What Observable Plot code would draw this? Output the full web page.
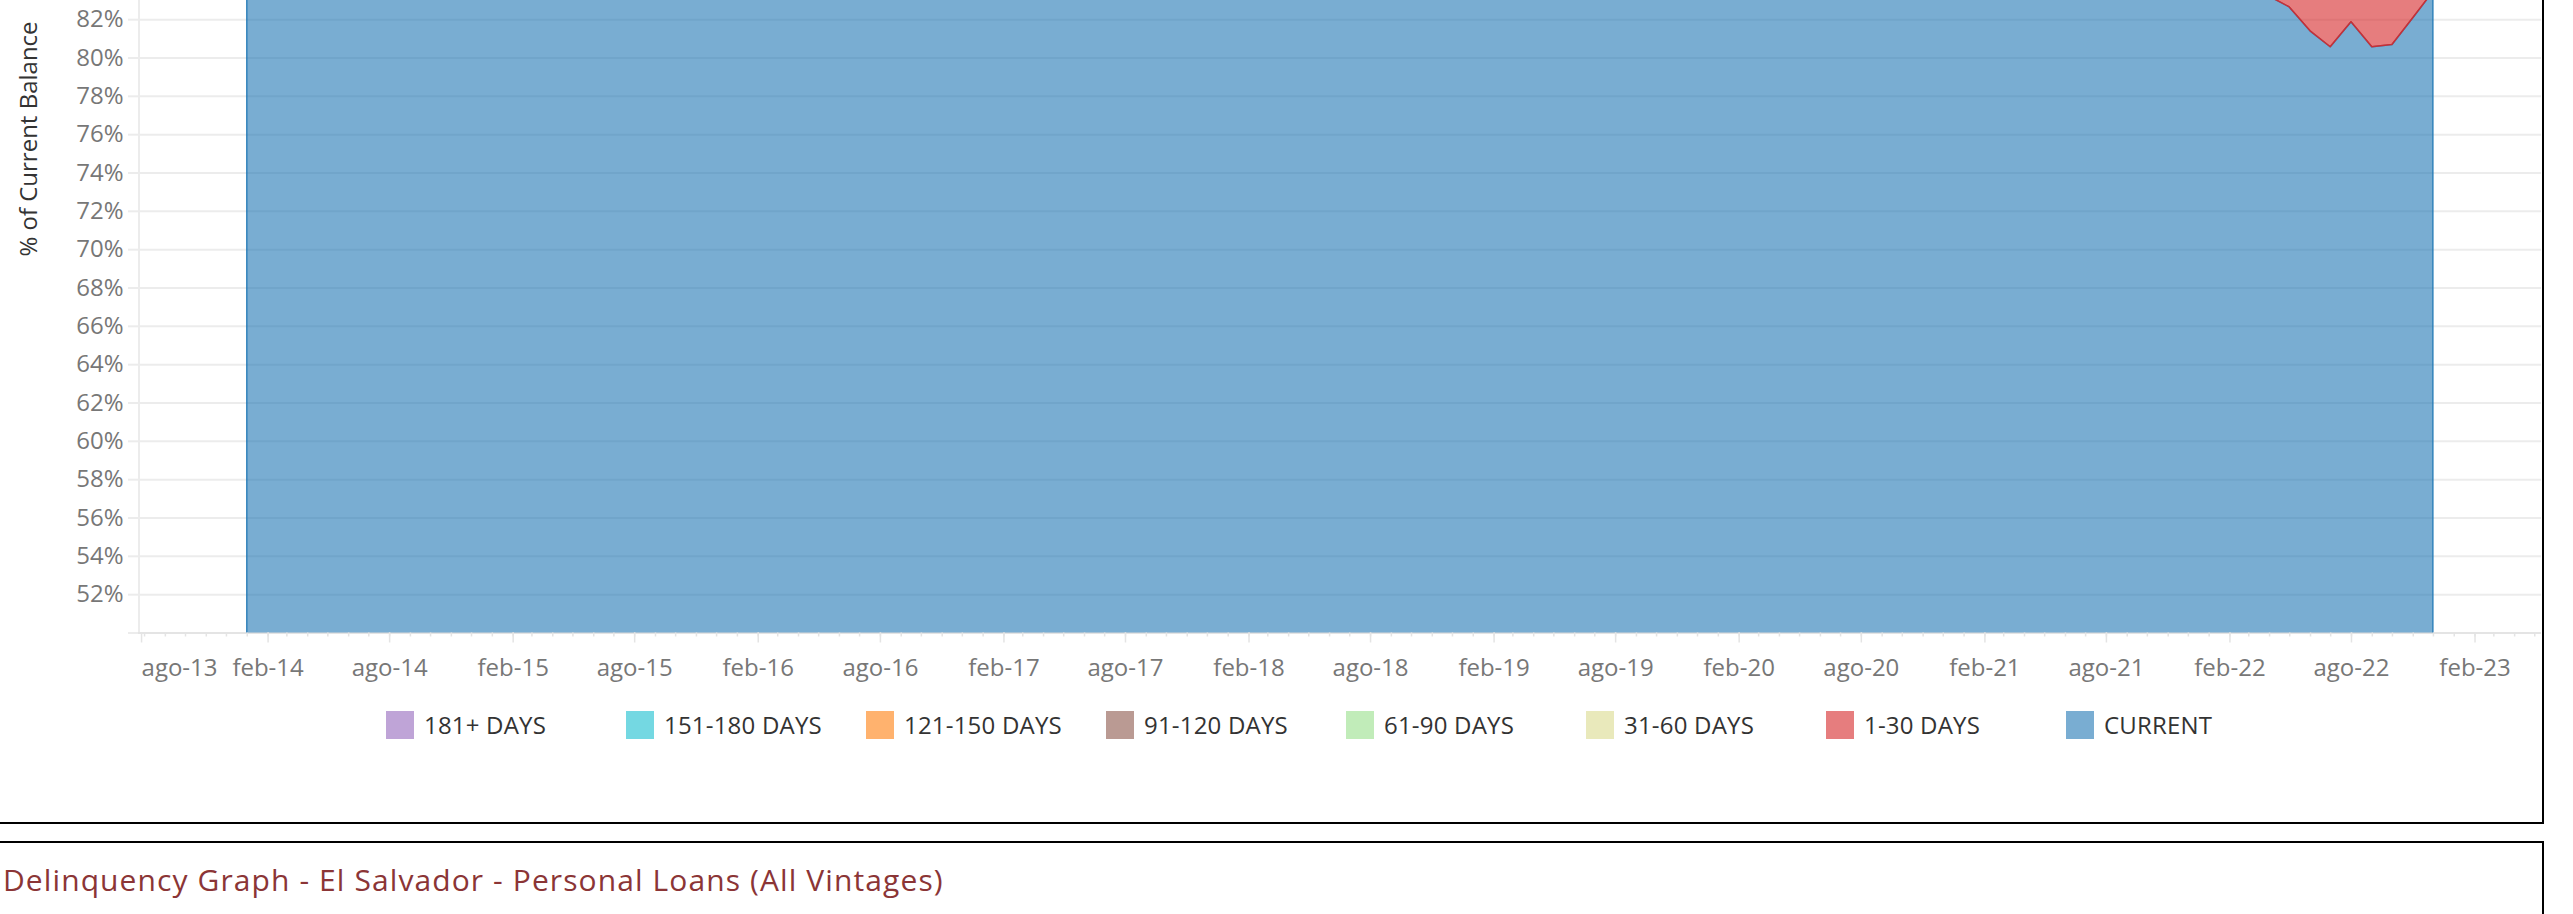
<!DOCTYPE html>
<html>
<head>
<meta charset="utf-8">
<script src="https://cdn.jsdelivr.net/npm/d3@7"></script>
<script src="https://cdn.jsdelivr.net/npm/@observablehq/plot@0.6"></script>
<style>
  html, body { margin: 0; padding: 0; background: #fff; }
  #page { position: relative; width: 2573px; height: 914px; overflow: hidden; background: #fff; font-family: "Open Sans", sans-serif; }
  .box { position: absolute; box-sizing: border-box; border: 2px solid #000; }
  #chart { position: absolute; left: 0; top: 0; }
  #ytitle { position: absolute; left: 27.5px; top: 139px; transform: translate(-50%, -50%) rotate(-90deg); white-space: nowrap; font-size: 24px; line-height: 24px; color: #333; }
  #legend { position: absolute; left: 386px; top: 711px; display: flex; }
  .item { width: 240px; display: flex; align-items: center; height: 28px; }
  .sw { width: 28px; height: 28px; flex: none; }
  .lb { margin-left: 10px; font-size: 24px; letter-spacing: 0.2px; line-height: 28px; color: #333; white-space: nowrap; }
  #title { position: absolute; left: 3px; top: 862px; font-size: 30px; letter-spacing: 1.1px; line-height: 36px; color: #8b3536; white-space: nowrap; }
</style>
</head>
<body>
<div id="page">
  <div class="box" style="left:-10px; top:-10px; width:2554px; height:834px;"></div>
  <div class="box" style="left:-10px; top:841px; width:2554px; height:200px;"></div>
  <div id="chart"></div>
  <div id="ytitle">% of Current Balance</div>
  <div id="legend"></div>
  <div id="title">Delinquency Graph - El Salvador - Personal Loans (All Vintages)</div>
</div>
<script>
// ---- data ----
const categories = ["181+ DAYS", "151-180 DAYS", "121-150 DAYS", "91-120 DAYS", "61-90 DAYS", "31-60 DAYS", "1-30 DAYS", "CURRENT"];
const categoryColors = ["#9467bd", "#17becf", "#ff7f0e", "#8c564b", "#98df8a", "#dbdb8d", "#d62728", "#1f77b4"];

// monthly, Jan 2014 .. Dec 2022 (% of current balance)
const firstMonth = "2014-01";
const currentPct = [
  88.2, 88.5, 88.9, 89.1, 89.0, 89.3, 89.6, 89.4, 89.8, 90.1, 90.0, 90.3,
  89.9, 90.2, 90.5, 90.4, 90.7, 90.9, 90.6, 90.8, 91.1, 91.0, 91.3, 91.5,
  91.2, 91.0, 91.4, 91.6, 91.3, 91.1, 90.9, 91.2, 91.0, 90.8, 91.1, 91.3,
  90.9, 90.7, 91.0, 90.8, 90.6, 90.4, 90.7, 90.5, 90.2, 90.4, 90.6, 90.8,
  90.3, 90.1, 90.4, 90.2, 89.9, 90.1, 89.8, 90.0, 89.7, 89.9, 90.2, 90.4,
  89.8, 89.6, 89.9, 89.7, 89.4, 89.6, 89.3, 89.5, 89.2, 89.4, 89.7, 89.9,
  89.3, 89.1, 88.4, 90.8, 92.1, 92.6, 92.9, 92.4, 91.8, 90.9, 90.1, 89.4,
  88.7, 88.1, 87.6, 87.2, 86.9, 86.5, 86.1, 85.8, 85.4, 85.0, 84.7, 84.4,
  84.0, 83.7, 83.5, 83.2, 82.64, 81.39, 80.56, 81.86, 80.56, 80.68, 82.07, 83.45
];
const days1to30Pct = [
  4.1, 4.3, 4.0, 4.2, 4.4, 4.1, 3.9, 4.2, 4.0, 3.8, 4.1, 3.9,
  4.2, 4.0, 3.8, 4.0, 3.7, 3.6, 3.9, 3.7, 3.5, 3.7, 3.5, 3.4,
  3.6, 3.8, 3.5, 3.4, 3.6, 3.8, 3.9, 3.7, 3.8, 4.0, 3.8, 3.6,
  3.9, 4.1, 3.8, 4.0, 4.1, 4.3, 4.0, 4.2, 4.4, 4.2, 4.0, 3.9,
  4.3, 4.5, 4.2, 4.4, 4.6, 4.4, 4.7, 4.5, 4.8, 4.6, 4.3, 4.2,
  4.6, 4.8, 4.5, 4.7, 4.9, 4.7, 5.0, 4.8, 5.1, 4.9, 4.6, 4.4,
  4.9, 5.1, 5.8, 3.2, 2.6, 2.4, 2.5, 2.9, 3.4, 4.1, 4.7, 5.2,
  5.6, 5.9, 6.1, 6.3, 6.4, 6.6, 6.8, 6.9, 7.1, 7.2, 7.3, 7.4,
  7.5, 7.6, 7.5, 7.7, 7.8, 8.1, 8.3, 7.9, 8.4, 8.2, 7.8, 7.4
];

const yTicks = [52, 54, 56, 58, 60, 62, 64, 66, 68, 70, 72, 74, 76, 78, 80, 82];
const xTickLabels = ["ago-13", "feb-14", "ago-14", "feb-15", "ago-15", "feb-16", "ago-16", "feb-17", "ago-17",
  "feb-18", "ago-18", "feb-19", "ago-19", "feb-20", "ago-20", "feb-21", "ago-21", "feb-22", "ago-22", "feb-23"];

// ---- build ----
const [fy, fm] = firstMonth.split("-").map(Number);
const monthDate = i => new Date(Date.UTC(fy, fm - 1 + i, 1));
const rows = [];
currentPct.forEach((v, i) => rows.push({date: monthDate(i), series: "CURRENT", value: v}));
days1to30Pct.forEach((v, i) => rows.push({date: monthDate(i), series: "1-30 DAYS", value: v}));

const labelDates = xTickLabels.map(s => new Date(Date.UTC(2000 + +s.slice(4), s.startsWith("feb") ? 1 : 7, 1)));
const labelFor = new Map(labelDates.map((d, i) => [+d, xTickLabels[i]]));
const xDomain = [new Date(Date.UTC(2013, 6, 23)), new Date(Date.UTC(2023, 4, 11))];
const monthTicks = d3.utcMonth.range(d3.utcMonth.ceil(xDomain[0]), xDomain[1]);

const grid = "#ececec";
const tickC = "#e4e4e4";
const labelC = "#777777";

const plot = Plot.plot({
  width: 2542,
  height: 700,
  marginTop: 0,
  marginBottom: 67.5,
  marginLeft: 138,
  marginRight: 1,
  style: {fontFamily: "'Open Sans', sans-serif", fontSize: "24px", background: "transparent", overflow: "visible"},
  x: {type: "utc", domain: xDomain, axis: null, label: null},
  y: {domain: [50, 83], axis: null, label: null},
  color: {domain: categories, range: categoryColors},
  marks: [
    Plot.gridY({ticks: yTicks, stroke: grid, strokeOpacity: 1, strokeWidth: 2}),
    Plot.ruleX([xDomain[0]], {stroke: grid, strokeWidth: 2, dx: 0.5}),
    Plot.ruleY([50], {stroke: tickC, strokeWidth: 2}),
    Plot.axisY({ticks: [50, ...yTicks], tickSize: 10, tickFormat: () => "", label: null, stroke: grid, strokeWidth: 2}),
    Plot.axisY({ticks: yTicks, tickSize: 0, tickPadding: 15, tickFormat: d => d + "%", label: null, fill: labelC, fontSize: 24}),
    Plot.areaY(rows, {
      x: "date", y: "value", fill: "series", fillOpacity: 0.6,
      stroke: "series", strokeOpacity: 0.85, strokeWidth: 1.5,
      order: ["CURRENT", "1-30 DAYS"], clip: true, curve: "linear"
    }),
    Plot.axisX({ticks: monthTicks, tickSize: 4, tickFormat: () => "", label: null, stroke: tickC, strokeWidth: 1.5}),
    Plot.axisX({ticks: labelDates.slice(1), tickSize: 10, tickPadding: 16, tickFormat: d => labelFor.get(+d), label: null,
      stroke: tickC, strokeWidth: 1.5, fill: labelC, fontSize: 24}),
    Plot.axisX({ticks: labelDates.slice(0, 1), tickSize: 10, tickPadding: 16, tickFormat: d => labelFor.get(+d), label: null,
      stroke: tickC, strokeWidth: 1.5, fill: labelC, fontSize: 24, textAnchor: "start", dx: -3})
  ]
});
document.getElementById("chart").appendChild(plot);

// legend
const legend = document.getElementById("legend");
categories.forEach((c, i) => {
  const item = document.createElement("div");
  item.className = "item";
  const sw = document.createElement("div");
  sw.className = "sw";
  sw.style.background = categoryColors[i];
  sw.style.opacity = 0.6;
  const lb = document.createElement("div");
  lb.className = "lb";
  lb.textContent = c;
  item.appendChild(sw);
  item.appendChild(lb);
  legend.appendChild(item);
});
</script>
</body>
</html>
